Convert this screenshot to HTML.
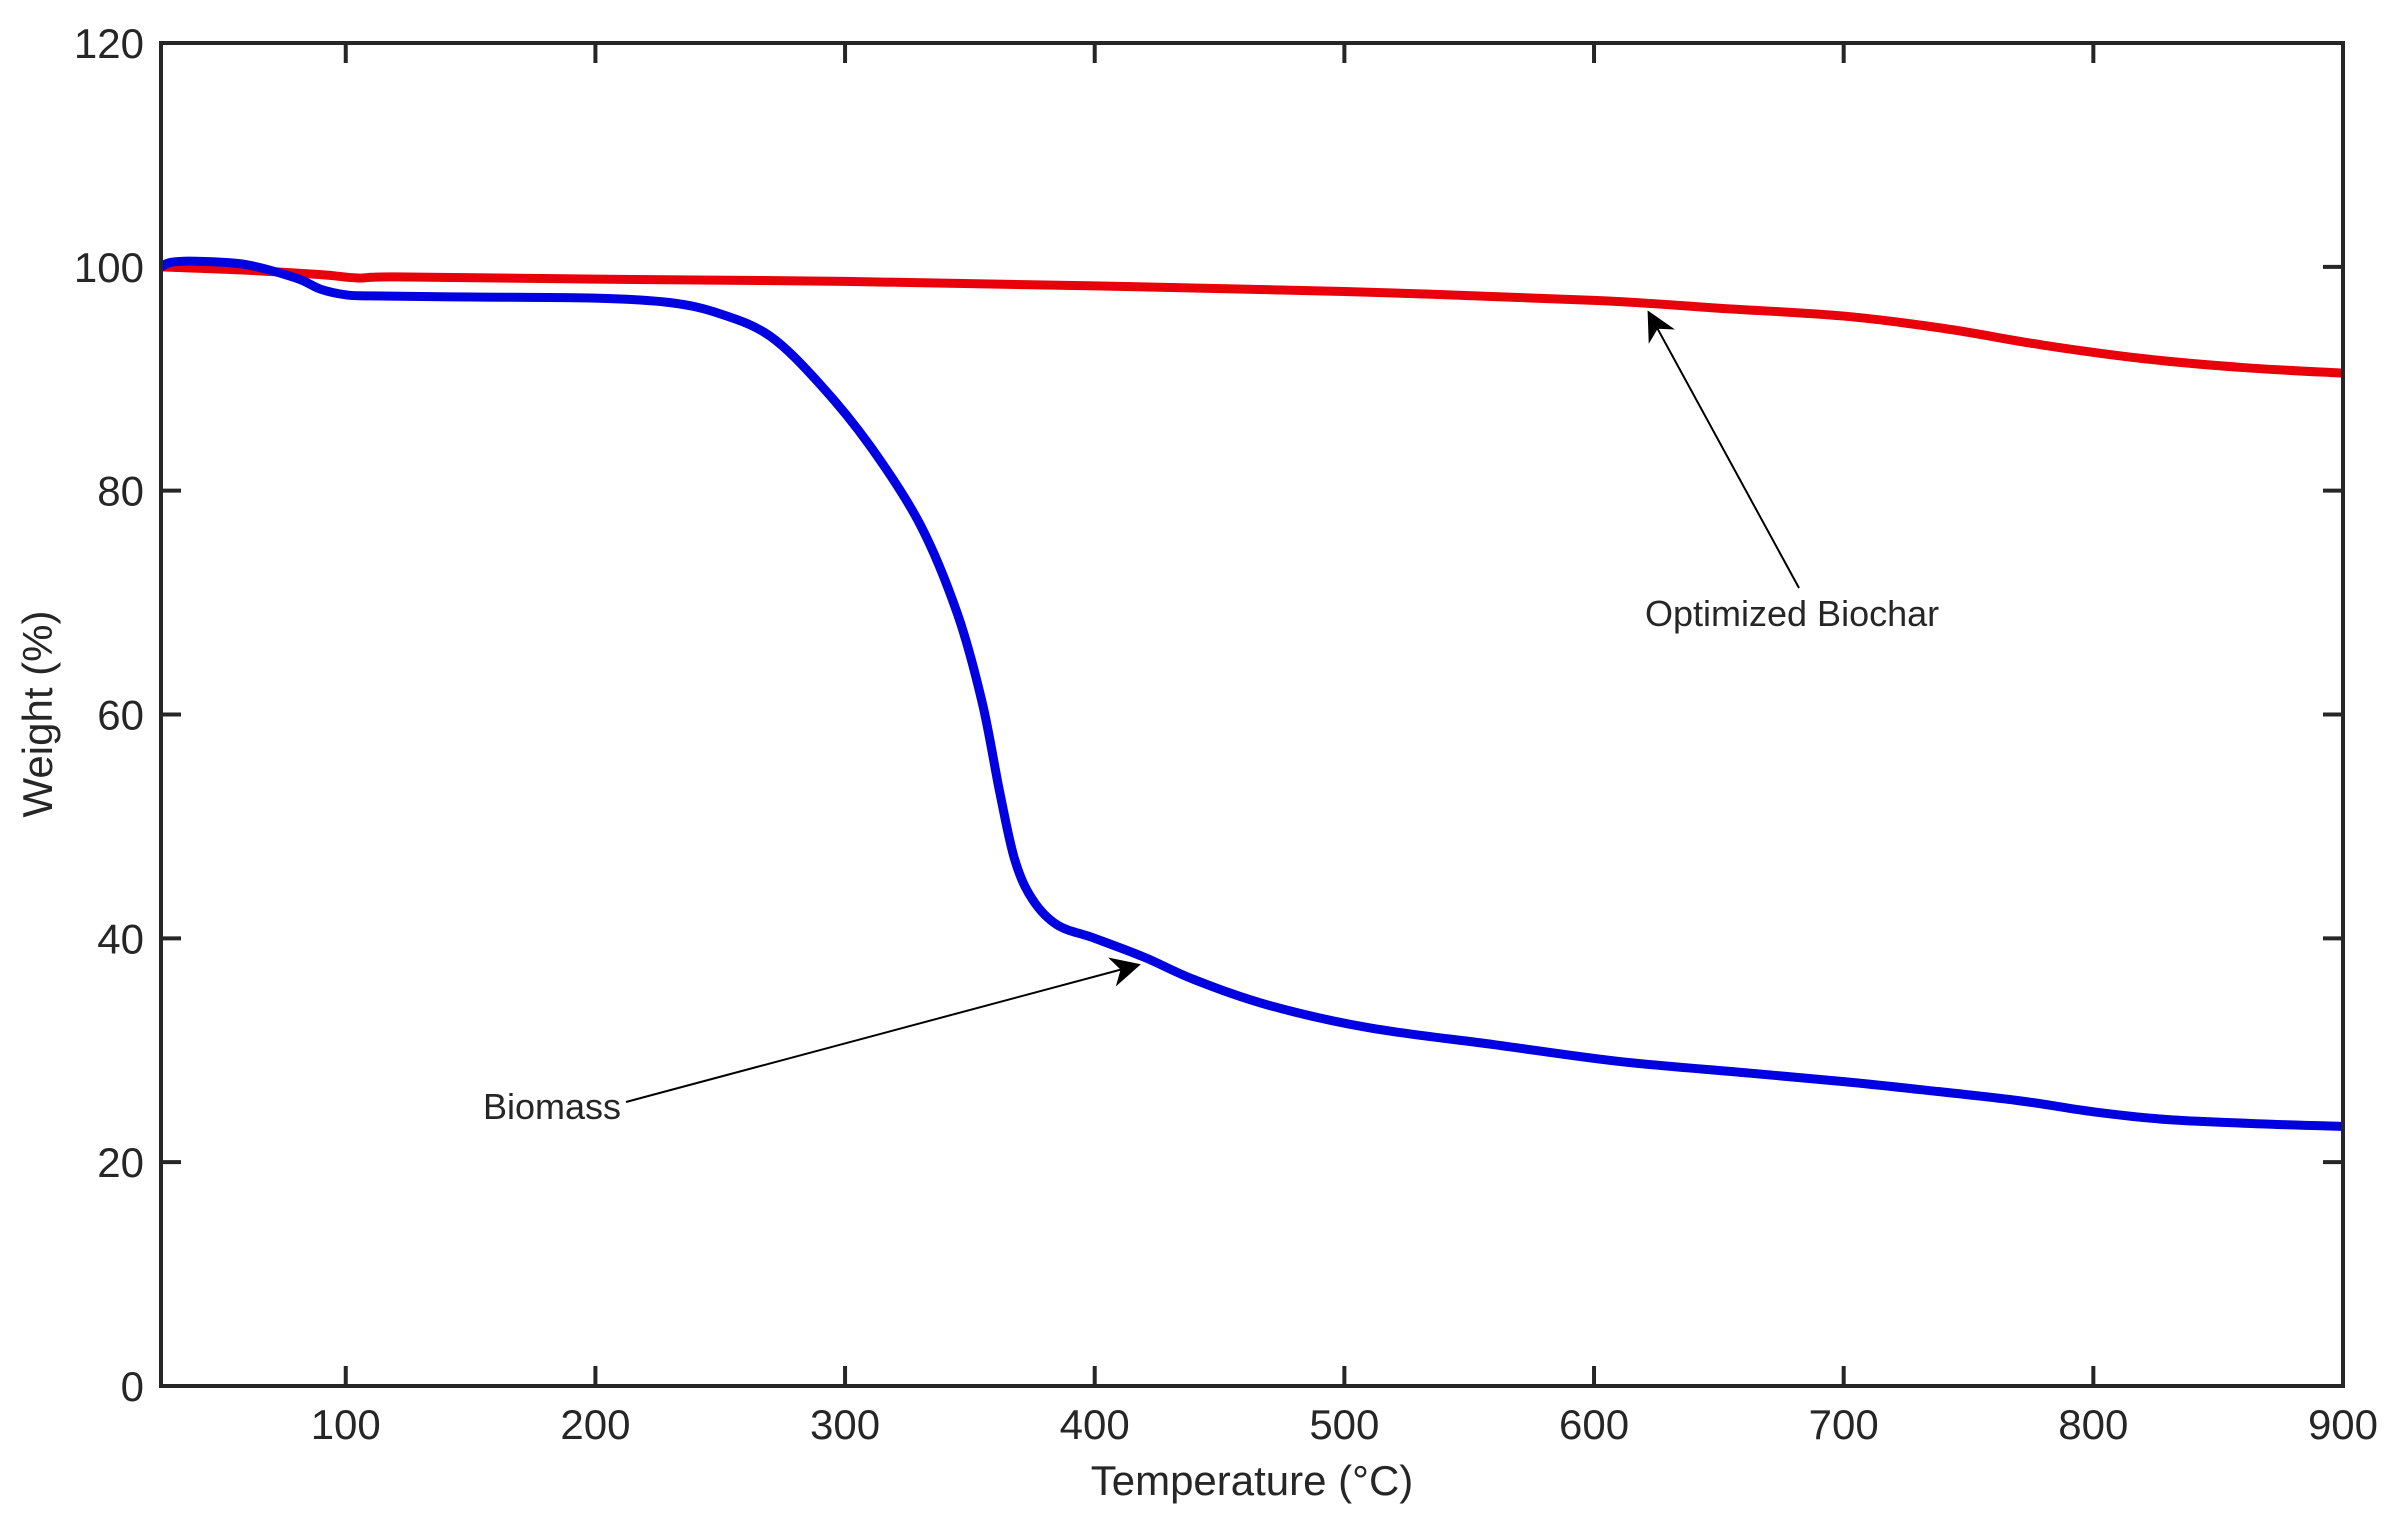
<!DOCTYPE html>
<html><head><meta charset="utf-8"><style>
body{margin:0;background:#fff}
svg text{font-family:"Liberation Sans",Arial,sans-serif;fill:#262626}
</style></head><body>
<svg id="chart" width="2395" height="1522" xmlns="http://www.w3.org/2000/svg">
<defs><marker id="ah2" viewBox="0 0 10 10" refX="9" refY="5" markerWidth="30" markerHeight="30" markerUnits="userSpaceOnUse" orient="auto"><path d="M0,0 L10,5 L0,10 L3,5 Z" fill="#000"/></marker></defs>
<g id="ticks"></g>
<g id="series"></g>
<rect x="161" y="43" width="2182" height="1343" fill="none" stroke="#262626" stroke-width="4"/>
<text x="1252" y="1495" font-size="42" text-anchor="middle">Temperature (°C)</text>
<text x="52" y="714" font-size="42" text-anchor="middle" transform="rotate(-90 52 714)">Weight (%)</text>
<line x1="1799" y1="588" x2="1649" y2="313" stroke="#000" stroke-width="2" marker-end="url(#ah2)"/>
<text x="1645" y="626" font-size="36">Optimized Biochar</text>
<line x1="626" y1="1102" x2="1138" y2="965" stroke="#000" stroke-width="2" marker-end="url(#ah2)"/>
<text x="483" y="1119" font-size="36">Biomass</text>
</svg>
<script>
const xTicks=[100,200,300,400,500,600,700,800,900];
const yTicks=[0,20,40,60,80,100,120];
const biomassT=[26,30,40,60,80,90,100,110,150,200,230,250,270,290,310,330,345,355,362,368,375,385,400,420,440,470,510,560,610,660,700,730,770,800,830,870,900];
const biomassW=[100,100.4,100.5,100.2,99,98,97.5,97.4,97.3,97.2,96.8,95.8,93.8,89.5,84,77,69,61,53,47,43.5,41.2,40,38.3,36.3,34,32,30.5,29,28,27.2,26.5,25.5,24.5,23.8,23.4,23.2];
const biocharT=[26,60,90,105,120,200,300,400,500,600,650,700,740,780,820,860,900];
const biocharW=[100,99.7,99.3,99,99.1,98.9,98.7,98.3,97.8,97,96.3,95.6,94.5,93,91.8,91,90.5];
const X0=161,X1=2343,Y0=1386,Y1=43,TMIN=26,TMAX=900;
const sx=t=>X0+(t-TMIN)/(TMAX-TMIN)*(X1-X0);
const sy=w=>Y0-w/120*(Y0-Y1);
const NS="http://www.w3.org/2000/svg";
const tg=document.getElementById('ticks'),sg=document.getElementById('series');
function mk(tag,attrs,parent){const e=document.createElementNS(NS,tag);for(const k in attrs)e.setAttribute(k,attrs[k]);parent.appendChild(e);return e;}
xTicks.forEach(t=>{const x=sx(t);
 const a=mk('line',{x1:x,y1:Y0,x2:x,y2:Y0-20,stroke:'#262626','stroke-width':4},tg);
 
 
 const b=mk('line',{x1:x,y1:Y1,x2:x,y2:Y1+20,stroke:'#262626','stroke-width':4},tg);
 
 
 const l=mk('text',{x:x,y:Y0+53,'font-size':42,'text-anchor':'middle'},tg);l.textContent=t;
 
 
});
yTicks.forEach(w=>{const y=sy(w);
 const a=mk('line',{x1:X0,y1:y,x2:X0+20,y2:y,stroke:'#262626','stroke-width':4},tg);
 
 
 const b=mk('line',{x1:X1,y1:y,x2:X1-20,y2:y,stroke:'#262626','stroke-width':4},tg);
 
 
 const l=mk('text',{x:X0-17,y:y+15,'font-size':42,'text-anchor':'end'},tg);l.textContent=w;
 
 
});
function path(ts,ws){const p=ts.map((t,i)=>[sx(t),sy(ws[i])]);
 let d='M'+p[0][0]+','+p[0][1];
 for(let i=0;i<p.length-1;i++){const p0=p[i-1]||p[i],p1=p[i],p2=p[i+1],p3=p[i+2]||p2;
  d+=' C'+(p1[0]+(p2[0]-p0[0])/6)+','+(p1[1]+(p2[1]-p0[1])/6)+' '+(p2[0]-(p3[0]-p1[0])/6)+','+(p2[1]-(p3[1]-p1[1])/6)+' '+p2[0]+','+p2[1];}
 return d;}
const r=mk('path',{d:path(biocharT,biocharW),fill:'none',stroke:'#e8000b','stroke-width':9,'stroke-linejoin':'round'},sg);


const bl=mk('path',{d:path(biomassT,biomassW),fill:'none',stroke:'#0000e0','stroke-width':9,'stroke-linejoin':'round'},sg);


</script>
</body></html>
